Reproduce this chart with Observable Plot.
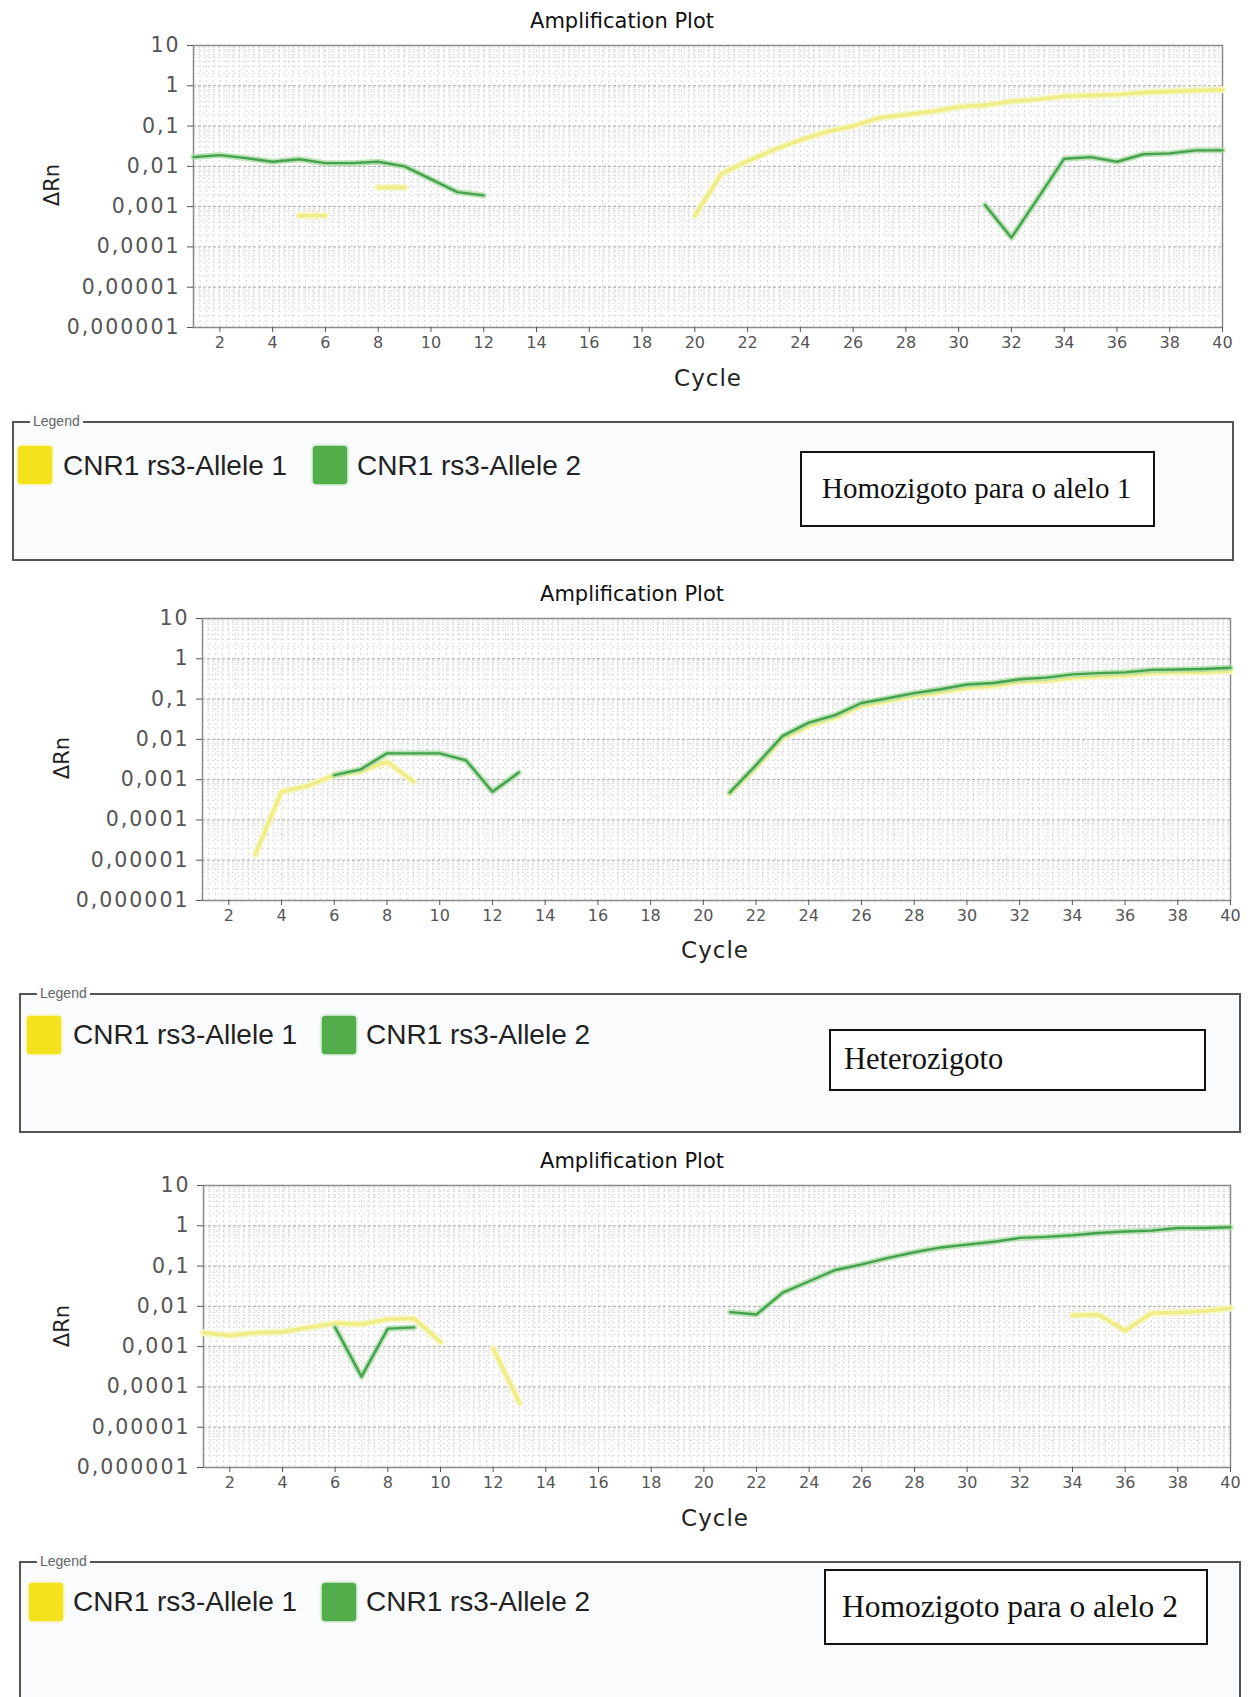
<!DOCTYPE html>
<html><head><meta charset="utf-8">
<script src="https://cdn.jsdelivr.net/npm/d3@7"></script>
<script src="https://cdn.jsdelivr.net/npm/@observablehq/plot@0.6"></script>
<style>
body{margin:0;background:#fff;}
#page{position:relative;width:1248px;height:1697px;overflow:hidden;background:#fff;}
.abs{position:absolute;white-space:nowrap;}
.title{font-family:"DejaVu Sans";font-size:21px;color:#111;transform:translate(-50%,-50%);}
.cycle{font-family:"DejaVu Sans";font-size:23px;letter-spacing:1px;color:#222;transform:translate(-50%,-50%);}
.drn{font-family:"DejaVu Sans";font-size:21px;color:#222;transform:translate(-50%,-50%) rotate(-90deg);}
.lbox{border:2px solid #555;background:#f9fbfc;box-sizing:border-box;}
.ltag{font-family:"Liberation Sans";font-size:14px;color:#666;background:#f9fbfc;padding:0 3px;transform:translateY(-50%);line-height:1;}
.sw{width:34px;height:38px;border-radius:3px;}
.ltext{font-family:"Liberation Sans";font-size:28px;color:#222;transform:translateY(-50%);line-height:1.1;}
.note{border:2px solid #111;background:#fff;box-sizing:border-box;}
.notetext{font-family:"Liberation Serif";color:#111;transform:translateY(-50%);line-height:1.1;}
svg g[aria-label="y-axis tick label"] text{letter-spacing:2px;}
</style></head>
<body><div id="page"></div>
<script>
const _ = null;
const cycles = [1,2,3,4,5,6,7,8,9,10,11,12,13,14,15,16,17,18,19,20,21,22,23,24,25,26,27,28,29,30,31,32,33,34,35,36,37,38,39,40];
const xTicks = [2,4,6,8,10,12,14,16,18,20,22,24,26,28,30,32,34,36,38,40];
const yTicks = [1e-6,1e-5,1e-4,1e-3,1e-2,1e-1,1,10];
const yTickLabels = ["0,000001","0,00001","0,0001","0,001","0,01","0,1","1","10"];
const seriesNames = ["CNR1 rs3-Allele 1","CNR1 rs3-Allele 2"];
const panelTitle = "Amplification Plot";
const xLabel = "Cycle";
const yLabel = "ΔRn";
const genotypes = ["Homozigoto para o alelo 1","Heterozigoto","Homozigoto para o alelo 2"];

// Panel 1: Homozigoto para o alelo 1
const homo1Allele1 = [_,_,_,_,0.0006,0.0006,_,0.003,0.003,_,
  _,_,_,_,_,_,_,_,_,0.0006,
  0.0065,0.0135,0.026,0.045,0.072,0.1,0.16,0.19,0.23,0.3,
  0.33,0.41,0.46,0.55,0.57,0.6,0.68,0.72,0.76,0.8];
const homo1Allele2 = [0.017,0.019,0.016,0.013,0.015,0.012,0.012,0.013,0.010,0.0048,
  0.0023,0.0019,_,_,_,_,_,_,_,_,
  _,_,_,_,_,_,_,_,_,_,
  0.0011,0.00017,0.0016,0.0155,0.017,0.013,0.02,0.021,0.025,0.025];
// Panel 2: Heterozigoto
const heteroAllele1 = [_,_,0.000014,0.0005,0.0007,0.0013,0.0016,0.0028,0.0009,_,
  _,_,_,_,_,_,_,_,_,_,
  0.00045,0.002,0.0105,0.022,0.035,0.068,0.09,0.12,0.15,0.19,
  0.21,0.27,0.29,0.34,0.37,0.39,0.45,0.46,0.47,0.5];
const heteroAllele2 = [_,_,_,_,_,0.0013,0.0018,0.0045,0.0045,0.0045,
  0.003,0.0005,0.0015,_,_,_,_,_,_,_,
  0.00048,0.0023,0.012,0.026,0.04,0.08,0.105,0.14,0.175,0.23,
  0.25,0.31,0.34,0.41,0.44,0.46,0.53,0.54,0.56,0.6];
// Panel 3: Homozigoto para o alelo 2
const homo2Allele1 = [0.0022,0.0019,0.0022,0.0023,0.003,0.0038,0.0036,0.0048,0.005,0.0013,
  _,0.0009,0.00004,_,_,_,_,_,_,_,
  _,_,_,_,_,_,_,_,_,_,
  _,_,_,0.006,0.0062,0.0025,0.0068,0.007,0.0077,0.009];
const homo2Allele2 = [_,_,_,_,_,0.003,0.00018,0.0028,0.003,_,
  _,_,_,_,_,_,_,_,_,_,
  0.0072,0.0063,0.022,0.042,0.08,0.11,0.16,0.22,0.29,0.34,
  0.4,0.5,0.53,0.58,0.66,0.72,0.76,0.88,0.88,0.92];

const xGrid = d3.range(1, 40.001, 0.25);
const yMinor = [];
for (let e = -6; e <= 0; e++) for (let m = 2; m <= 9; m++) yMinor.push(m * Math.pow(10, e));

const panels = [
  {top:0, plot:{left:193,right:1222,top:45,bottom:327}, title:[622,21], cycle:[708,378], drn:[52,185],
   legend:{left:12,top:421,right:1234,bottom:561}, tag:[30,421],
   sw1:[18,446], t1:[63,466], sw2:[313,446], t2:[357,466],
   note:{left:800,top:451,right:1155,bottom:527}, noteX:822, noteSize:29, a1:homo1Allele1, a2:homo1Allele2},
  {top:570, plot:{left:202,right:1230,top:618,bottom:900}, title:[632,594], cycle:[715,950], drn:[62,758],
   legend:{left:19,top:993,right:1241,bottom:1133}, tag:[37,993],
   sw1:[27,1016], t1:[73,1035], sw2:[322,1016], t2:[366,1035],
   note:{left:829,top:1029,right:1206,bottom:1091}, noteX:844, noteSize:30.5, a1:heteroAllele1, a2:heteroAllele2},
  {top:1140, plot:{left:203,right:1230,top:1185,bottom:1467}, title:[632,1161], cycle:[715,1518], drn:[62,1326],
   legend:{left:19,top:1561,right:1241,bottom:1720}, tag:[37,1561],
   sw1:[29,1583], t1:[73,1602], sw2:[322,1583], t2:[366,1602],
   note:{left:824,top:1569,right:1208,bottom:1645}, noteX:842, noteSize:31.5, a1:homo2Allele1, a2:homo2Allele2}
];

const page = document.getElementById("page");
function add(cls, css, text) {
  const d = document.createElement("div");
  d.className = "abs " + cls;
  Object.assign(d.style, css);
  if (text != null) d.textContent = text;
  page.appendChild(d);
  return d;
}

const W = 1248, H = 360;
panels.forEach((p, k) => {
  const rows = cycles.map((c, i) => ({c, a1: p.a1[i], a2: p.a2[i]}));
  const svg = Plot.plot({
    width: W, height: H,
    marginLeft: p.plot.left, marginRight: W - p.plot.right,
    marginTop: p.plot.top - p.top, marginBottom: p.top + H - p.plot.bottom,
    style: {background: "transparent", fontFamily: "DejaVu Sans", overflow: "visible"},
    x: {domain: [1, 40]},
    y: {type: "log", domain: [1e-6, 10]},
    marks: [
      Plot.gridX(xGrid, {stroke: "#d6d6d6", strokeOpacity: 1, strokeDasharray: "2,3"}),
      Plot.gridY(yMinor, {stroke: "#d9d9d9", strokeOpacity: 1, strokeDasharray: "2,3"}),
      Plot.gridY(yTicks, {stroke: "#a8a8a8", strokeOpacity: 1, strokeDasharray: "3,2"}),
      Plot.frame({stroke: "#8a8a8a", strokeWidth: 1.5}),
      Plot.axisX(xTicks, {tickSize: 5, tickPadding: 4, fontSize: 16, color: "#555", label: null, tickFormat: d => String(d)}),
      Plot.axisY(yTicks, {tickSize: 6, tickPadding: 7, fontSize: 20.5, color: "#555", label: null, tickFormat: d => yTickLabels[yTicks.indexOf(d)]}),
      Plot.line(rows, {x: "c", y: "a1", stroke: "#f8f6c6", strokeWidth: 7}),
      Plot.line(rows, {x: "c", y: "a1", stroke: "#efed86", strokeWidth: 3.5}),
      Plot.line(rows, {x: "c", y: "a2", stroke: "#aadca5", strokeWidth: 6, strokeOpacity: 0.8}),
      Plot.line(rows, {x: "c", y: "a2", stroke: "#43a24b", strokeWidth: 2.4})
    ]
  });
  svg.style.position = "absolute";
  svg.style.left = "0px";
  svg.style.top = p.top + "px";
  page.appendChild(svg);

  add("title", {left: p.title[0] + "px", top: p.title[1] + "px"}, panelTitle);
  add("cycle", {left: p.cycle[0] + "px", top: p.cycle[1] + "px"}, xLabel);
  add("drn", {left: p.drn[0] + "px", top: p.drn[1] + "px"}, yLabel);

  const L = p.legend;
  add("lbox", {left: L.left + "px", top: L.top + "px", width: (L.right - L.left) + "px", height: (L.bottom - L.top) + "px"});
  add("ltag", {left: p.tag[0] + "px", top: p.tag[1] + "px"}, "Legend");
  add("sw", {left: p.sw1[0] + "px", top: p.sw1[1] + "px", background: "#f4e21c", boxShadow: "0 0 3px #f4e21c"});
  add("ltext", {left: p.t1[0] + "px", top: p.t1[1] + "px"}, seriesNames[0]);
  add("sw", {left: p.sw2[0] + "px", top: p.sw2[1] + "px", background: "#52ae4a", boxShadow: "0 0 3px #52ae4a"});
  add("ltext", {left: p.t2[0] + "px", top: p.t2[1] + "px"}, seriesNames[1]);

  const N = p.note;
  add("note", {left: N.left + "px", top: N.top + "px", width: (N.right - N.left) + "px", height: (N.bottom - N.top) + "px"});
  add("notetext", {left: p.noteX + "px", top: ((N.top + N.bottom) / 2) + "px", fontSize: p.noteSize + "px"}, genotypes[k]);
});
</script>
</body></html>
